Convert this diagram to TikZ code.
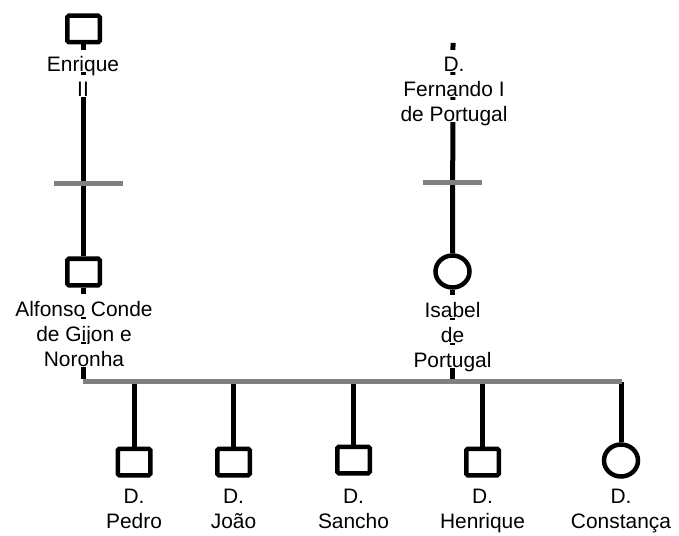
\documentclass[tikz,border=0pt]{standalone}
\usepackage{fontspec}
\setmainfont{Liberation Sans}
\usetikzlibrary{shapes.geometric}
\definecolor{famGray}{HTML}{808080}
\tikzset{
  fam male/.style={rectangle, draw=black, line width=4.5bp, rounded corners=1.5bp, minimum width=32.5bp, minimum height=26.5bp, inner sep=0pt},
  fam female/.style={ellipse, draw=black, line width=4.5bp, minimum width=34bp, minimum height=32bp, inner sep=0pt},
  fam descent/.style={draw=black, line width=5bp},
  fam union/.style={draw=famGray, line width=5bp},
  fam text/.style={font=\fontsize{21}{25}\selectfont, fill=white, text height=21.5bp, text depth=0pt, inner xsep=0pt, inner ysep=0.5bp, anchor=base},
}

\begin{document}
\begin{tikzpicture}[x=1bp, y=-1bp]
  \useasboundingbox (0,0) rectangle (679,536);
  % Parents and grandparents
  \node[fam male] (enrique) at (83.5,29) {};
  \coordinate (fernando) at (453,43);
  \node[fam male] (alfonso) at (83.5,272) {};
  \node[fam female] (isabel) at (452.5,271.5) {};
  % Children
  \node[fam male] (pedro) at (134,462) {};
  \node[fam male] (joao) at (233.5,462) {};
  \node[fam male] (sancho) at (353.5,460) {};
  \node[fam male] (henrique) at (482.5,462) {};
  \node[fam female] (constanca) at (621,460.5) {};
  % Marriage bar and marks
  \coordinate (couple-l) at (83,381.5);
  \coordinate (couple-r) at (622,381.5);
  \coordinate (enrique-mark-l) at (54,183.5);
  \coordinate (enrique-mark-r) at (123,183.5);
  \coordinate (fernando-mark-l) at (423,182.5);
  \coordinate (fernando-mark-r) at (482,182.5);

  % Lines of descent
  \draw[fam descent] (enrique) -- (alfonso);
  \draw[fam descent] (fernando) -- (isabel);
  \draw[fam descent] (alfonso) -- ([yshift=2.5bp]alfonso |- couple-l);
  \draw[fam descent] (isabel) -- ([yshift=2.5bp]isabel |- couple-l);
  \foreach \c in {pedro, joao, sancho, henrique, constanca}
    \draw[fam descent] (\c |- couple-r) -- (\c);
  \draw[fam union] (couple-l) -- (couple-r);
  \draw[fam union] (enrique-mark-l) -- (enrique-mark-r);
  \draw[fam union] (fernando-mark-l) -- (fernando-mark-r);

  % Names, one node per line
  \foreach \t [count=\k from 0] in {Enrique, II}
    \node[fam text] (enrique-t\k) at (83,72+25*\k) {\t};
  \foreach \t [count=\k from 0] in {D., Fernando I, de Portugal}
    \node[fam text] (fernando-t\k) at (454,72+25*\k) {\t};
  \foreach \t [count=\k from 0] in {Alfonso Conde, de Gijon e, Noronha}
    \node[fam text] (alfonso-t\k) at (84,316+25*\k) {\t};
  \foreach \t [count=\k from 0] in {Isabel, de, Portugal}
    \node[fam text] (isabel-t\k) at (452.5,317+25*\k) {\t};
  \foreach \c/\n in {pedro/Pedro, joao/João, sancho/Sancho, henrique/Henrique, constanca/Constança} {
    \node[fam text] (\c-t0) at (\c |- 0,503) {D.};
    \node[fam text] (\c-t1) at (\c |- 0,528) {\n};
  }
\end{tikzpicture}
\end{document}
